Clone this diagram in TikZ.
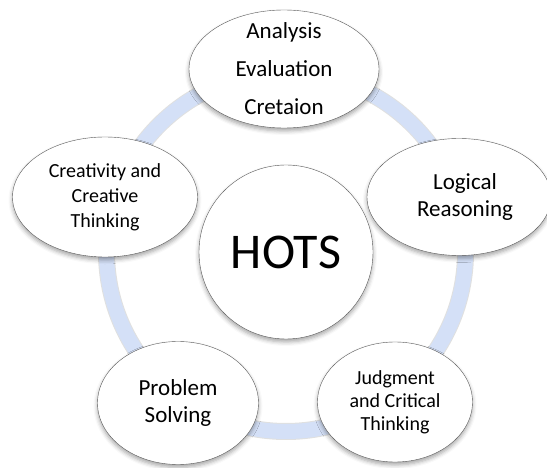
\documentclass[tikz,border=0pt]{standalone}
\usepackage{fontspec}
\setmainfont{Carlito}
\usetikzlibrary{shapes,shadows.blur}
\definecolor{ringblue}{RGB}{212,224,247}

\begin{document}
\begin{tikzpicture}[x=1pt,y=-1pt]
 \tikzset{skill node/.style={ellipse, draw=black!65, fill=white, inner sep=0pt,
 		blur shadow={shadow xshift=0pt, shadow yshift=-3pt,
 		shadow blur radius=4pt, shadow opacity=35}}, }
 \tikzset{skill text/.style={align=center, text=black}, }
 \tikzset{ring edge/.style={draw=black!12, line width=17pt}, }
 \tikzset{ring line/.style={draw=ringblue, line width=15pt}, }
 \useasboundingbox (0,0) rectangle (547,468);
 \coordinate (c) at (286,252);
 \draw[ring edge] (c) circle (179.5);
 \draw[ring line] (c) circle (179.5);
% skills round the ring
 \node[skill node, minimum width=190pt, minimum height=118pt,
 	label={[skill text, font=\fontsize{23}{38}\selectfont]center:{Analysis\\Evaluation\\Cretaion}}]
 	(2) at (284,69) {};
 \node[skill node, minimum width=184pt, minimum height=117pt,
 	label={[skill text, font=\fontsize{23}{27}\selectfont, xshift=6pt]center:{Logical\\Reasoning}}]
 	(3) at (459,197) {};
 \node[skill node, minimum width=155pt, minimum height=120pt,
 	label={[skill text, font=\fontsize{20}{23}\selectfont]center:{Judgment\\and Critical\\Thinking}}]
 	(4) at (395,402) {};
 \node[skill node, minimum width=161pt, minimum height=123pt,
 	label={[skill text, font=\fontsize{23}{27}\selectfont]center:{Problem\\Solving}}]
 	(5) at (178,403) {};
 \node[skill node, minimum width=185pt, minimum height=120pt,
 	label={[skill text, font=\fontsize{20}{25}\selectfont]center:{Creativity and\\Creative\\Thinking}}]
 	(6) at (105,197) {};
% centre
 \node[skill node, circle, minimum size=174pt, skill text,
 	font=\fontsize{50}{60}\selectfont] (1) at (c) {HOTS};
\end{tikzpicture}
\end{document}
